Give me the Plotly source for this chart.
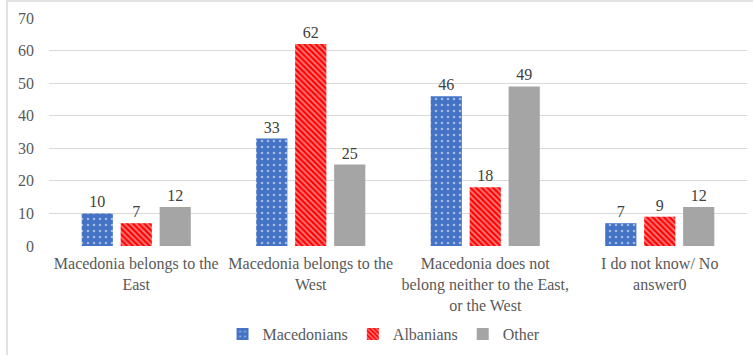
import plotly.graph_objects as go

categories = [
    "Macedonia belongs to the<br>East",
    "Macedonia belongs to the<br>West",
    "Macedonia does not<br>belong neither to the East,<br>or the West",
    "I do not know/ No<br>answer0",
]
macedonians = [10, 33, 46, 7]
albanians = [7, 62, 18, 9]
other = [12, 25, 49, 12]

FONT = "Liberation Serif"

fig = go.Figure()
fig.add_trace(go.Bar(
    name="Macedonians", x=categories, y=macedonians,
    text=macedonians, textposition="outside",
    marker=dict(color="#4472C4", line=dict(width=0),
                pattern=dict(shape=".", fgcolor="white", size=6, solidity=0.15)),
))
fig.add_trace(go.Bar(
    name="Albanians", x=categories, y=albanians,
    text=albanians, textposition="outside",
    marker=dict(color="#FF0000", line=dict(width=0),
                pattern=dict(shape="\\", fgcolor="white", size=4, solidity=0.45)),
))
fig.add_trace(go.Bar(
    name="Other", x=categories, y=other,
    text=other, textposition="outside",
    marker=dict(color="#A5A5A5", line=dict(width=0)),
))

fig.update_traces(textfont=dict(family=FONT, size=16, color="#404040"),
                  cliponaxis=False)

fig.update_layout(
    width=753, height=355,
    margin=dict(l=49, r=6, t=18, b=109, autoexpand=False),
    paper_bgcolor="white", plot_bgcolor="white",
    barmode="group", bargap=0.33, bargroupgap=0.2,
    font=dict(family=FONT, color="#595959"),
    showlegend=True,
    legend=dict(orientation="h", x=0.48, xanchor="center", y=-0.312, yanchor="top",
                font=dict(family=FONT, size=16, color="#595959"),
                itemwidth=30, tracegroupgap=0),
    xaxis=dict(tickfont=dict(family=FONT, size=16, color="#595959"),
               showgrid=False, showline=False, ticks="", automargin=False,
               ticklabelstandoff=6),
    yaxis=dict(range=[0, 70], dtick=10, showgrid=True, gridcolor="#D9D9D9",
               gridwidth=1, zeroline=False, showline=False, automargin=False,
               tickfont=dict(family=FONT, size=16, color="#595959"),
               ticks="", ticklabelstandoff=14),
    shapes=[dict(type="rect", xref="paper", yref="paper",
                 x0=-0.0602, x1=1.05, y0=-0.6, y1=1.0746,
                 line=dict(color="#D9D9D9", width=1.5), layer="below")],
)

fig.write_html("out.html")
